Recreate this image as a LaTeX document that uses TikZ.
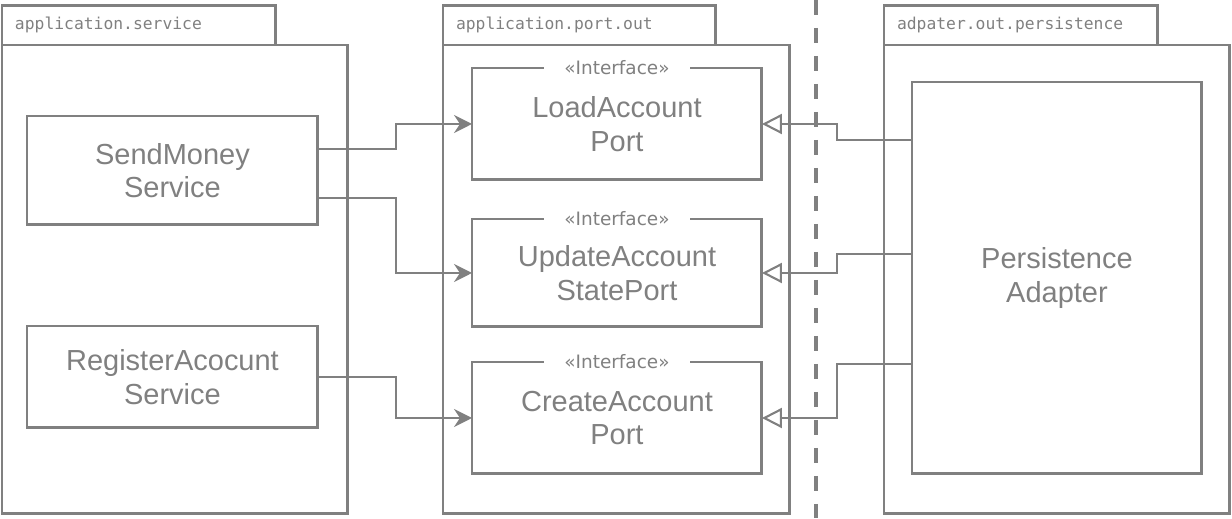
\documentclass[tikz,border=0pt]{standalone}
\usepackage{fontspec}
\setmainfont{Liberation Sans}
\newfontfamily\pkgfont{DejaVu Sans Mono}
\newfontfamily\stereofont{DejaVu Sans}
\usetikzlibrary{arrows.meta}
\definecolor{umlgray}{RGB}{128,128,128}

\begin{document}
\begin{tikzpicture}
  [x=0.02cm,y=-0.02cm,every node/.style={outer sep=0pt,text=umlgray},
   pkg/.style={draw=umlgray,line width=1.7pt,anchor=north west,inner sep=0pt},
   tab/.style={draw=umlgray,line width=1.7pt,anchor=south west,minimum height=0.8cm,
     inner xsep=0.26cm,align=left,font=\pkgfont\fontsize{9.3}{11}\selectfont},
   cls/.style={draw=umlgray,line width=1.7pt,anchor=north west,minimum width=5.8cm,
     align=center,font=\fontsize{16.5}{19}\selectfont},
   stereo/.style={fill=white,inner xsep=0.4cm,inner ysep=1pt,
     font=\stereofont\fontsize{10.5}{12}\selectfont},
   use/.style={draw=umlgray,line width=1.2pt,-{Stealth[length=0.36cm,width=0.36cm,inset=0.12cm]}},
   impl/.style={draw=umlgray,line width=1.2pt,-{Triangle[open,length=0.4cm,width=0.4cm]}}]
  \useasboundingbox (0,0) rectangle (1232,518);

  % packages
  \node[pkg,minimum width=6.92cm,minimum height=9.38cm] (svc) at (2,45) {};
  \node[tab,text width=4.96cm] (svctab) at (svc.north west) {application.service};
  \node[pkg,minimum width=6.94cm,minimum height=9.38cm] (out) at (443,45) {};
  \node[tab,text width=4.94cm] (outtab) at (out.north west) {application.port.out};
  \node[pkg,minimum width=6.92cm,minimum height=9.38cm] (pers) at (884,45) {};
  \node[tab,text width=4.96cm] (perstab) at (pers.north west) {adpater.out.persistence};

  \draw[umlgray,line width=2pt,dash pattern=on 0.3cm off 0.26cm] (816,0) -- (816,518);

  % classes
  \node[cls,minimum width=5.82cm,minimum height=2.18cm] (send) at (27,116) {SendMoney\\Service};
  \node[cls,minimum width=5.82cm,minimum height=2.04cm] (register) at (27,326) {RegisterAcocunt\\Service};
  \node[cls,minimum height=2.24cm] (load) at (472,68) {LoadAccount\\Port};
  \node[cls,minimum height=2.16cm] (update) at (472,219) {UpdateAccount\\StatePort};
  \node[cls,minimum height=2.24cm] (create) at (472,362) {CreateAccount\\Port};
  \node[cls,minimum height=7.84cm] (adapter) at (912,82) {Persistence\\Adapter};

  \foreach \port in {load,update,create}
    \node[stereo] (\port st) at (\port.north) {«Interface»};

  \foreach \from/\s/\to in {send/0.43cm/load,send/-0.55cm/update,register/0cm/create}
    \draw[use] ([yshift=\s]\from.east) -- ++(78,0) |- (\to.west);
  \foreach \s/\to in {2.76cm/load,0.48cm/update,-1.72cm/create}
    \draw[impl] ([yshift=\s]adapter.west) -- ++(-75,0) |- (\to.east);
\end{tikzpicture}
\end{document}
